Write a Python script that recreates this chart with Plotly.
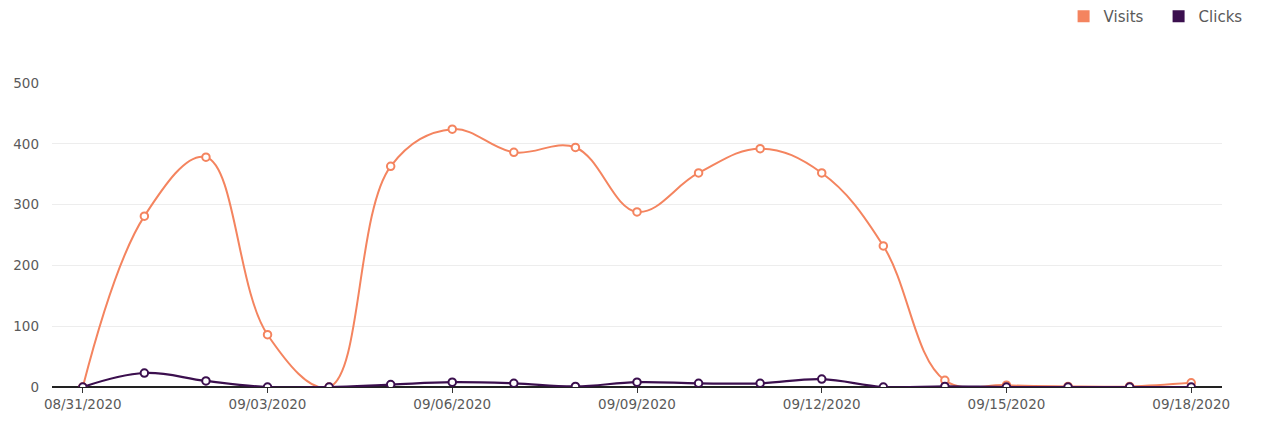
import plotly.graph_objects as go
import pandas as pd

dates = pd.date_range("2020-08-31", "2020-09-18", freq="D")
visits = [0, 281, 378, 86, 0, 363, 424, 386, 394, 288, 352, 392, 352, 232, 11, 3, 1, 1, 7]
clicks = [0, 23, 10, 0, 0, 4, 8, 6, 1, 8, 6, 6, 13, 0, 1, 0, 0, 0, 0]
tick_dates = pd.date_range("2020-08-31", "2020-09-18", freq="3D")
tick_labels = [d.strftime("%m/%d/%Y") for d in tick_dates]

orange = "#f4845f"
purple = "#3b0f4e"
font_family = "DejaVu Sans, sans-serif"

fig = go.Figure()
fig.add_trace(go.Scatter(
    x=dates, y=visits, mode="lines+markers", name="Visits", showlegend=False,
    line=dict(color=orange, width=2, shape="spline", smoothing=1.1),
    marker=dict(symbol="circle", size=7.5, color="white", line=dict(color=orange, width=2)),
))
fig.add_trace(go.Scatter(
    x=dates, y=clicks, mode="lines+markers", name="Clicks", showlegend=False,
    line=dict(color=purple, width=2.2, shape="spline", smoothing=1.1),
    marker=dict(symbol="circle", size=7.5, color="white", line=dict(color=purple, width=2)),
))
for nm, col in [("Visits", orange), ("Clicks", purple)]:
    fig.add_trace(go.Scatter(x=[None], y=[None], mode="markers", name=nm,
                             marker=dict(symbol="square", size=12, color=col)))

fig.update_layout(
    width=1263, height=421,
    margin=dict(l=52, r=41, t=83, b=34),
    paper_bgcolor="white", plot_bgcolor="white",
    font=dict(family=font_family, size=13, color="#5a5a5a"),
    legend=dict(orientation="h", x=1.027, xanchor="right", y=1.0, yanchor="top",
                yref="container", font=dict(size=15, color="#5a5a5a"),
                itemwidth=30, traceorder="normal", entrywidth=50),
    showlegend=True,
)
fig.update_xaxes(
    range=[dates[0] - pd.Timedelta(hours=12), dates[-1] + pd.Timedelta(hours=12)],
    tickvals=tick_dates, ticktext=tick_labels, showgrid=False, automargin=False,
    ticks="outside", ticklen=5, tickcolor="#333333", showline=False, zeroline=False,
    tickfont=dict(size=13.5),
)
fig.update_yaxes(
    range=[0, 500], tickvals=[0, 100, 200, 300, 400, 500], showgrid=True, automargin=False,
    gridcolor="#ededed", gridwidth=1, zeroline=True, zerolinecolor="#222222",
    zerolinewidth=2, ticks="", ticklabelstandoff=12, tickfont=dict(size=13.5),
)
fig.write_html("out.html")
